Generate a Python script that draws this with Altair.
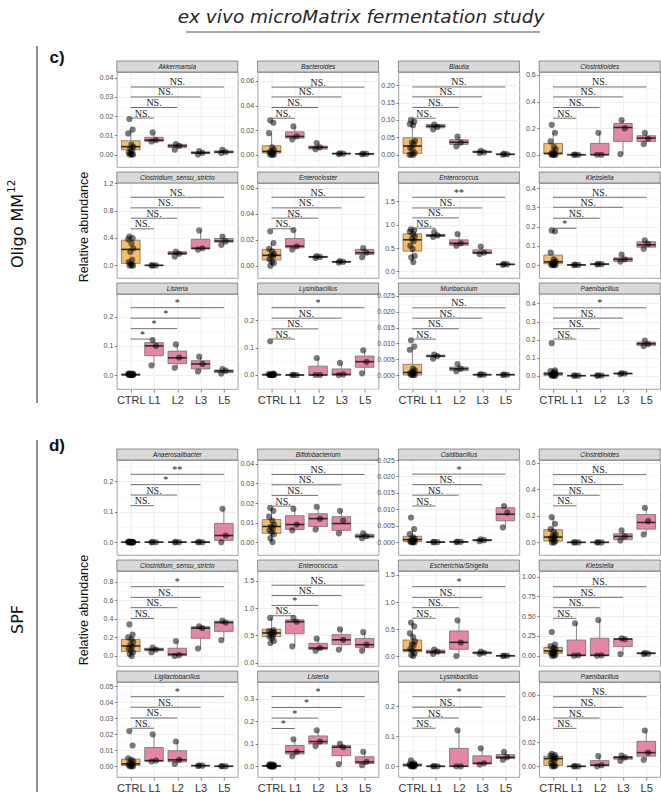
import math
import altair as alt
import pandas as pd

GROUPS = ["CTRL", "L1", "L2", "L3", "L5"]
TITLE = "ex vivo microMatrix fermentation study"

ORANGE = "#F6BD69"
PINK = "#E586A8"
BORDER = "#8a8a8a"
GRID = "#EBEBEB"
GRID_MINOR = "#F3F3F3"
SANS = "Liberation Sans"
SERIF = "Liberation Serif"

W, H = 121, 95          # plot area of one panel
STRIP_H = 11            # facet strip above each panel
SIDE_W = 93.5           # left column holding section letters and labels
ROW_GAP, COL_GAP = 16, 19.8
HEAD_H, MID_H = 53, 39  # title band, gap between the two sections

# horizontal spread of the dots around their group
JITTER = [-0.06, 0.08, -0.11, 0.03, 0.11, -0.02, 0.06, -0.09, 0.01, 0.10, -0.05, 0.04, -0.12]

# box = [lower whisker, q1, median, q3, upper whisker] for CTRL, L1, L2, L3, L5
# brk = bracket heights for CTRL vs L1 / L2 / L3 / L5, sig = their labels

# ---------------- Oligo MM12 ----------------
AKKERMANSIA = dict(
    name="Akkermansia", dom=[-0.0065, 0.043], step=0.01, dec=2,
    box=[[0.0, 0.0024, 0.0041, 0.0072, 0.013], [0.0068, 0.0069, 0.0075, 0.009, 0.0115],
         [0.0025, 0.0036, 0.0045, 0.0053, 0.0055], [0.0, 0.0005, 0.0009, 0.0014, 0.0018],
         [0.0008, 0.0009, 0.0013, 0.0019, 0.0025]],
    pts=[[0.0185, 0.013, 0.011, 0.0052, 0.004, 0.003, 0.002, 0.001, 0.0005, 0.0, 0.0, 0.0],
         [0.0115, 0.0075, 0.0068], [0.0055, 0.0045, 0.0025], [0.0018, 0.0009, 0.0],
         [0.0025, 0.0013, 0.0008]],
    brk=[0.019, 0.0245, 0.030, 0.0352], sig=["NS.", "NS.", "NS.", "NS."])

BACTEROIDES = dict(
    name="Bacteroides", dom=[-0.010, 0.0673], step=0.02, dec=2,
    box=[[0.0, 0.0014, 0.0027, 0.0073, 0.0175], [0.0125, 0.0135, 0.0149, 0.0186, 0.023],
         [0.0045, 0.0046, 0.006, 0.007, 0.0095], [0.0005, 0.0007, 0.0009, 0.0011, 0.0012],
         [0.0004, 0.0005, 0.0007, 0.0009, 0.001]],
    pts=[[0.028, 0.026, 0.0175, 0.006, 0.004, 0.003, 0.002, 0.0015, 0.001, 0.0, 0.0, 0.0],
         [0.023, 0.015, 0.0125], [0.0095, 0.006, 0.0045], [0.0012, 0.0009, 0.0005],
         [0.001, 0.0007, 0.0004]],
    brk=[0.0297, 0.0384, 0.047, 0.055], sig=["NS.", "NS.", "NS.", "NS."])

BLAUTIA = dict(
    name="Blautia", dom=[-0.0354, 0.238], step=0.05, dec=2,
    box=[[0.0, 0.0038, 0.0249, 0.0488, 0.10], [0.073, 0.0775, 0.082, 0.087, 0.087],
         [0.024, 0.0297, 0.036, 0.043, 0.052], [0.005, 0.0067, 0.008, 0.0105, 0.011],
         [0.0, 0.0005, 0.001, 0.002, 0.003]],
    pts=[[0.10, 0.095, 0.088, 0.085, 0.04, 0.035, 0.03, 0.02, 0.015, 0.005, 0.0, 0.0, 0.0],
         [0.087, 0.080, 0.073], [0.052, 0.035, 0.024], [0.011, 0.007, 0.005], [0.003, 0.001, 0.0]],
    brk=[0.105, 0.136, 0.1665, 0.195], sig=["NS.", "NS.", "NS.", "NS."])

CLOSTRIDIOIDES_MM = dict(
    name="Clostridioides", dom=[-0.0925, 0.6225], step=0.2, dec=1,
    box=[[0.0, 0.005, 0.01, 0.085, 0.165], [0.0, 0.0, 0.0, 0.001, 0.001],
         [0.0, 0.0, 0.0, 0.085, 0.165], [0.005, 0.10, 0.205, 0.235, 0.26],
         [0.08, 0.10, 0.125, 0.143, 0.165]],
    pts=[[0.225, 0.165, 0.10, 0.06, 0.04, 0.02, 0.01, 0.005, 0.0, 0.0, 0.0, 0.0],
         [0.001, 0.0, 0.0], [0.165, 0.0, 0.0], [0.26, 0.20, 0.005], [0.165, 0.12, 0.08]],
    brk=[0.275, 0.355, 0.435, 0.51], sig=["NS.", "NS.", "NS.", "NS."])

CLOSTRIDIUM_MM = dict(
    name="Clostridium_sensu_stricto", dom=[-0.184, 1.202], step=0.4, dec=1,
    box=[[0.0, 0.029, 0.233, 0.368, 0.42], [0.0, 0.0, 0.0, 0.002, 0.002],
         [0.13, 0.16, 0.175, 0.199, 0.20], [0.23, 0.24, 0.25, 0.38, 0.51],
         [0.30, 0.34, 0.355, 0.393, 0.42]],
    pts=[[0.42, 0.40, 0.38, 0.32, 0.25, 0.20, 0.08, 0.05, 0.02, 0.0, 0.0, 0.0],
         [0.0, 0.0, 0.0], [0.20, 0.17, 0.13], [0.51, 0.25, 0.23], [0.42, 0.35, 0.30]],
    brk=[0.533, 0.688, 0.839, 0.994], sig=["NS.", "NS.", "NS.", "NS."])

ENTEROCLOSTER = dict(
    name="Enterocloster", dom=[-0.0095, 0.0638], step=0.02, dec=2,
    box=[[0.0, 0.0044, 0.008, 0.0126, 0.0175], [0.0125, 0.0138, 0.0151, 0.021, 0.0275],
         [0.006, 0.0064, 0.0068, 0.0072, 0.0075], [0.0025, 0.0027, 0.003, 0.0033, 0.0035],
         [0.0065, 0.0087, 0.010, 0.0126, 0.0135]],
    pts=[[0.0265, 0.0175, 0.013, 0.011, 0.009, 0.008, 0.007, 0.005, 0.003, 0.002, 0.0],
         [0.0275, 0.015, 0.0125], [0.0075, 0.0068, 0.006], [0.0035, 0.003, 0.0025],
         [0.0135, 0.010, 0.0065]],
    brk=[0.0285, 0.0367, 0.0446, 0.0528], sig=["NS.", "NS.", "NS.", "NS."])

ENTEROCOCCUS_MM = dict(
    name="Enterococcus", dom=[-0.142, 1.892], step=0.5, dec=1,
    box=[[0.20, 0.434, 0.676, 0.804, 0.90], [0.74, 0.745, 0.77, 0.79, 0.84],
         [0.55, 0.56, 0.60, 0.675, 0.80], [0.37, 0.38, 0.40, 0.46, 0.53],
         [0.14, 0.145, 0.15, 0.155, 0.16]],
    pts=[[0.90, 0.88, 0.85, 0.80, 0.75, 0.70, 0.65, 0.55, 0.48, 0.33, 0.30, 0.20],
         [0.84, 0.77, 0.74], [0.80, 0.60, 0.55], [0.53, 0.40, 0.37], [0.16, 0.15, 0.14]],
    brk=[0.925, 1.145, 1.358, 1.586], sig=["NS.", "NS.", "NS.", "**"])

KLEBSIELLA_MM = dict(
    name="Klebsiella", dom=[-0.067, 0.426], step=0.1, dec=1,
    box=[[0.0, 0.007, 0.017, 0.052, 0.065], [0.0, 0.0, 0.001, 0.002, 0.002],
         [0.003, 0.004, 0.005, 0.006, 0.007], [0.018, 0.019, 0.03, 0.038, 0.055],
         [0.085, 0.093, 0.105, 0.121, 0.128]],
    pts=[[0.18, 0.175, 0.065, 0.03, 0.02, 0.015, 0.01, 0.005, 0.003, 0.0, 0.0, 0.0],
         [0.002, 0.001, 0.0], [0.007, 0.005, 0.003], [0.055, 0.03, 0.018], [0.128, 0.11, 0.085]],
    brk=[0.191, 0.243, 0.30, 0.352], sig=["*", "NS.", "NS.", "NS."])

LISTERIA_MM = dict(
    name="Listeria", dom=[-0.048, 0.278], step=0.1, dec=1,
    box=[[0.0, 0.0, 0.001, 0.0035, 0.006], [0.033, 0.066, 0.10, 0.111, 0.12],
         [0.025, 0.039, 0.059, 0.082, 0.105], [0.012, 0.021, 0.038, 0.049, 0.063],
         [0.005, 0.008, 0.014, 0.017, 0.02]],
    pts=[[0.006, 0.005, 0.004, 0.003, 0.002, 0.002, 0.001, 0.001, 0.0, 0.0, 0.0, 0.0],
         [0.12, 0.10, 0.033], [0.105, 0.06, 0.025], [0.063, 0.038, 0.012], [0.02, 0.015, 0.005]],
    brk=[0.1234, 0.159, 0.195, 0.231], sig=["*", "*", "*", "*"])

LYSINIBACILLUS_MM = dict(
    name="Lysinibacillus", dom=[-0.051, 0.295], step=0.1, dec=1,
    box=[[0.0, 0.0, 0.001, 0.003, 0.005], [0.0, 0.0, 0.0, 0.001, 0.001],
         [0.0, 0.0, 0.0, 0.032, 0.062], [0.0, 0.0, 0.002, 0.022, 0.044],
         [0.006, 0.028, 0.0485, 0.069, 0.09]],
    pts=[[0.123, 0.005, 0.004, 0.003, 0.002, 0.001, 0.001, 0.0, 0.0, 0.0, 0.0, 0.0],
         [0.001, 0.0, 0.0], [0.062, 0.0, 0.0], [0.044, 0.002, 0.0], [0.09, 0.048, 0.006]],
    brk=[0.131, 0.168, 0.207, 0.245], sig=["NS.", "NS.", "NS.", "*"])

MURIBACULUM = dict(
    name="Muribaculum", dom=[-0.00442, 0.02563], step=0.005, dec=3,
    box=[[0.0, 0.0, 0.0008, 0.0034, 0.008], [0.0052, 0.0058, 0.006, 0.0063, 0.0065],
         [0.0012, 0.0014, 0.002, 0.0025, 0.0035], [0.0, 0.0001, 0.0001, 0.0002, 0.0003],
         [0.0, 0.0001, 0.0001, 0.0002, 0.0003]],
    pts=[[0.011, 0.009, 0.008, 0.002, 0.0015, 0.001, 0.0008, 0.0005, 0.0002, 0.0, 0.0, 0.0],
         [0.0065, 0.006, 0.0052], [0.0035, 0.002, 0.0012], [0.0003, 0.0001, 0.0],
         [0.0002, 0.0001, 0.0]],
    brk=[0.01137, 0.01463, 0.018, 0.02126], sig=["NS.", "NS.", "NS.", "NS."])

PAENIBACILLUS_MM = dict(
    name="Paenibacillus", dom=[-0.0737, 0.4525], step=0.1, dec=1,
    box=[[0.0, 0.002, 0.01, 0.018, 0.03], [0.0, 0.0, 0.0, 0.001, 0.001],
         [0.0, 0.0, 0.001, 0.002, 0.002], [0.008, 0.01, 0.012, 0.014, 0.015],
         [0.165, 0.168, 0.177, 0.186, 0.195]],
    pts=[[0.18, 0.03, 0.025, 0.02, 0.015, 0.01, 0.008, 0.005, 0.002, 0.0, 0.0, 0.0],
         [0.001, 0.0, 0.0], [0.002, 0.001, 0.0], [0.015, 0.012, 0.008], [0.195, 0.175, 0.165]],
    brk=[0.203, 0.26, 0.319, 0.376], sig=["NS.", "NS.", "NS.", "*"])

# ---------------- SPF ----------------
ANAEROSALIBACTER = dict(
    name="Anaerosalibacter", dom=[-0.042, 0.27], step=0.1, dec=1,
    box=[[0.0, 0.0, 0.0, 0.001, 0.002], [0.0, 0.0, 0.0, 0.0005, 0.001],
         [0.0, 0.0, 0.0, 0.0005, 0.001], [0.0, 0.0, 0.0, 0.001, 0.001],
         [0.0, 0.006, 0.022, 0.062, 0.11]],
    pts=[[0.002, 0.001, 0.001, 0.0, 0.0, 0.0, 0.0, 0.0, 0.0, 0.0, 0.0, 0.0],
         [0.001, 0.0, 0.0], [0.001, 0.0, 0.0], [0.001, 0.0, 0.0], [0.11, 0.022, 0.0]],
    brk=[0.12, 0.155, 0.189, 0.223], sig=["NS.", "NS.", "*", "**"])

BIFIDOBACTERIUM = dict(
    name="Bifidobacterium", dom=[-0.0066, 0.042], step=0.01, dec=2,
    box=[[0.0, 0.0045, 0.008, 0.0115, 0.0175], [0.006, 0.0065, 0.009, 0.0135, 0.017],
         [0.0065, 0.008, 0.012, 0.0145, 0.018], [0.0045, 0.006, 0.0095, 0.013, 0.016],
         [0.002, 0.0022, 0.003, 0.004, 0.0045]],
    pts=[[0.0175, 0.016, 0.013, 0.011, 0.009, 0.008, 0.007, 0.006, 0.005, 0.004, 0.002, 0.0],
         [0.017, 0.009, 0.006], [0.018, 0.012, 0.0065], [0.016, 0.011, 0.0045],
         [0.0045, 0.003, 0.002]],
    brk=[0.0184, 0.0239, 0.0293, 0.0346], sig=["NS.", "NS.", "NS.", "NS."])

CALDIBACILLUS = dict(
    name="Caldibacillus", dom=[-0.0039, 0.025], step=0.005, dec=3,
    box=[[0.0, 0.0002, 0.0008, 0.0018, 0.004], [0.0, 0.0, 0.0, 0.0001, 0.0001],
         [0.0, 0.0, 0.0001, 0.0002, 0.0002], [0.0003, 0.0004, 0.0006, 0.0008, 0.0009],
         [0.0045, 0.0065, 0.0085, 0.0105, 0.011]],
    pts=[[0.0075, 0.004, 0.0025, 0.0015, 0.001, 0.0008, 0.0005, 0.0003, 0.0001, 0.0, 0.0, 0.0],
         [0.0001, 0.0, 0.0], [0.0002, 0.0001, 0.0], [0.0009, 0.0006, 0.0003],
         [0.011, 0.009, 0.0045]],
    brk=[0.011, 0.0143, 0.0175, 0.0207], sig=["NS.", "NS.", "NS.", "*"])

CLOSTRIDIOIDES_SPF = dict(
    name="Clostridioides", dom=[-0.095, 0.62], step=0.2, dec=1,
    box=[[0.0, 0.01, 0.04, 0.095, 0.19], [0.0, 0.0, 0.0, 0.001, 0.001],
         [0.0, 0.0, 0.0, 0.001, 0.001], [0.015, 0.02, 0.045, 0.065, 0.09],
         [0.06, 0.10, 0.15, 0.21, 0.26]],
    pts=[[0.19, 0.14, 0.10, 0.08, 0.06, 0.05, 0.04, 0.03, 0.02, 0.01, 0.0, 0.0],
         [0.001, 0.0, 0.0], [0.001, 0.0, 0.0], [0.09, 0.045, 0.015], [0.26, 0.16, 0.06]],
    brk=[0.275, 0.355, 0.435, 0.51], sig=["NS.", "NS.", "NS.", "NS."])

CLOSTRIDIUM_SPF = dict(
    name="Clostridium_sensu_stricto", dom=[-0.108, 0.915], step=0.2, dec=1,
    box=[[0.0, 0.047, 0.108, 0.179, 0.23], [0.04, 0.057, 0.07, 0.083, 0.09],
         [0.0, 0.004, 0.018, 0.083, 0.16], [0.08, 0.19, 0.30, 0.315, 0.32],
         [0.17, 0.265, 0.36, 0.375, 0.38]],
    pts=[[0.34, 0.23, 0.2, 0.18, 0.15, 0.12, 0.10, 0.08, 0.06, 0.04, 0.02, 0.0],
         [0.09, 0.07, 0.04], [0.16, 0.01, 0.0], [0.32, 0.30, 0.08], [0.38, 0.36, 0.17]],
    brk=[0.405, 0.52, 0.631, 0.746], sig=["NS.", "NS.", "NS.", "*"])

ENTEROCOCCUS_SPF = dict(
    name="Enterococcus", dom=[-0.06, 1.68], step=0.5, dec=1,
    box=[[0.36, 0.478, 0.545, 0.612, 0.82], [0.30, 0.53, 0.75, 0.785, 0.82],
         [0.22, 0.245, 0.27, 0.355, 0.44], [0.24, 0.33, 0.42, 0.515, 0.61],
         [0.22, 0.275, 0.33, 0.445, 0.56]],
    pts=[[0.82, 0.60, 0.58, 0.56, 0.55, 0.53, 0.50, 0.48, 0.45, 0.40, 0.36],
         [0.82, 0.75, 0.30], [0.44, 0.27, 0.22], [0.61, 0.42, 0.24], [0.56, 0.33, 0.22]],
    brk=[0.86, 1.05, 1.23, 1.42], sig=["NS.", "*", "NS.", "NS."])

ESCHERICHIA = dict(
    name="Escherichia/Shigella", dom=[-0.185, 1.574], step=0.5, dec=1,
    box=[[0.0, 0.08, 0.11, 0.296, 0.62], [0.04, 0.05, 0.075, 0.11, 0.12],
         [0.0, 0.123, 0.253, 0.463, 0.66], [0.04, 0.043, 0.06, 0.075, 0.08],
         [0.0, 0.0, 0.005, 0.008, 0.01]],
    pts=[[0.62, 0.55, 0.42, 0.35, 0.27, 0.22, 0.20, 0.13, 0.10, 0.05, 0.02, 0.0],
         [0.12, 0.08, 0.04], [0.66, 0.25, 0.0], [0.08, 0.06, 0.04], [0.01, 0.005, 0.0]],
    brk=[0.70, 0.895, 1.086, 1.284], sig=["NS.", "NS.", "NS.", "*"])

KLEBSIELLA_SPF = dict(
    name="Klebsiella", dom=[-0.131, 1.072], step=0.25, dec=2,
    box=[[0.0, 0.03, 0.059, 0.105, 0.14], [0.0, 0.0, 0.005, 0.198, 0.41],
         [0.0, 0.0, 0.005, 0.22, 0.45], [0.02, 0.114, 0.21, 0.215, 0.22],
         [0.02, 0.025, 0.03, 0.035, 0.04]],
    pts=[[0.30, 0.14, 0.12, 0.10, 0.08, 0.06, 0.05, 0.03, 0.02, 0.01, 0.0, 0.0],
         [0.41, 0.005, 0.0], [0.45, 0.005, 0.0], [0.22, 0.21, 0.02], [0.035, 0.025, 0.02]],
    brk=[0.473, 0.607, 0.738, 0.873], sig=["NS.", "NS.", "NS.", "NS."])

LIGILACTOBACILLUS = dict(
    name="Ligilactobacillus", dom=[-0.0067, 0.0527], step=0.01, dec=2,
    box=[[0.0, 0.0006, 0.0015, 0.0045, 0.005], [0.003, 0.00325, 0.0035, 0.01175, 0.020],
         [0.0015, 0.00275, 0.004, 0.00975, 0.0155], [0.0002, 0.0003, 0.0004, 0.0005, 0.0006],
         [0.0, 0.0, 0.0, 0.00005, 0.0001]],
    pts=[[0.022, 0.013, 0.005, 0.004, 0.003, 0.002, 0.0015, 0.001, 0.0005, 0.0, 0.0, 0.0],
         [0.020, 0.0035, 0.003], [0.0155, 0.004, 0.0015], [0.0006, 0.0004, 0.0002],
         [0.0001, 0.0, 0.0]],
    brk=[0.0238, 0.0302, 0.0369, 0.0435], sig=["NS.", "NS.", "NS.", "*"])

LISTERIA_SPF = dict(
    name="Listeria", dom=[-0.047, 0.374], step=0.1, dec=1,
    box=[[0.0, 0.0, 0.002, 0.004, 0.008], [0.045, 0.055, 0.065, 0.0925, 0.12],
         [0.09, 0.10, 0.11, 0.135, 0.16], [0.01, 0.0475, 0.085, 0.0925, 0.10],
         [0.005, 0.0125, 0.02, 0.0425, 0.065]],
    pts=[[0.01, 0.008, 0.006, 0.005, 0.004, 0.003, 0.002, 0.002, 0.001, 0.0, 0.0, 0.0],
         [0.12, 0.065, 0.045], [0.16, 0.11, 0.09], [0.10, 0.085, 0.01], [0.065, 0.02, 0.005]],
    brk=[0.168, 0.214, 0.261, 0.309], sig=["*", "*", "*", "*"])

LYSINIBACILLUS_SPF = dict(
    name="Lysinibacillus", dom=[-0.0356, 0.281], step=0.1, dec=1,
    box=[[0.0, 0.001, 0.004, 0.008, 0.012], [0.0, 0.0, 0.0, 0.0005, 0.001],
         [0.0, 0.0, 0.0, 0.06, 0.12], [0.006, 0.008, 0.01, 0.035, 0.06],
         [0.022, 0.026, 0.03, 0.039, 0.048]],
    pts=[[0.02, 0.01, 0.008, 0.006, 0.005, 0.004, 0.003, 0.002, 0.001, 0.0, 0.0, 0.0],
         [0.001, 0.0, 0.0], [0.12, 0.0, 0.0], [0.06, 0.01, 0.006], [0.048, 0.03, 0.022]],
    brk=[0.127, 0.161, 0.197, 0.232], sig=["NS.", "NS.", "NS.", "*"])

PAENIBACILLUS_SPF = dict(
    name="Paenibacillus", dom=[-0.0089, 0.0706], step=0.02, dec=2,
    box=[[0.0, 0.0008, 0.0065, 0.0084, 0.0105], [0.0, 0.0, 0.0, 0.0001, 0.0002],
         [0.0, 0.0005, 0.001, 0.0048, 0.0085], [0.0045, 0.006, 0.0075, 0.00825, 0.009],
         [0.0055, 0.0085, 0.0115, 0.021, 0.03]],
    pts=[[0.0105, 0.0095, 0.009, 0.008, 0.007, 0.006, 0.005, 0.003, 0.001, 0.0005, 0.0, 0.0],
         [0.0002, 0.0, 0.0], [0.0085, 0.001, 0.0], [0.009, 0.0075, 0.0045], [0.03, 0.0115, 0.0055]],
    brk=[0.0318, 0.0404, 0.0494, 0.0583], sig=["NS.", "NS.", "NS.", "NS."])

OLIGO_ROWS = [
    [AKKERMANSIA, BACTEROIDES, BLAUTIA, CLOSTRIDIOIDES_MM],
    [CLOSTRIDIUM_MM, ENTEROCLOSTER, ENTEROCOCCUS_MM, KLEBSIELLA_MM],
    [LISTERIA_MM, LYSINIBACILLUS_MM, MURIBACULUM, PAENIBACILLUS_MM],
]
SPF_ROWS = [
    [ANAEROSALIBACTER, BIFIDOBACTERIUM, CALDIBACILLUS, CLOSTRIDIOIDES_SPF],
    [CLOSTRIDIUM_SPF, ENTEROCOCCUS_SPF, ESCHERICHIA, KLEBSIELLA_SPF],
    [LIGILACTOBACILLUS, LISTERIA_SPF, LYSINIBACILLUS_SPF, PAENIBACILLUS_SPF],
]

ONE = pd.DataFrame({"k": [0]})
NO_FRAME = alt.ViewBackground(strokeOpacity=0)


def major_ticks(lo, hi, step):
    k0 = math.ceil(lo / step - 1e-9)
    k1 = math.floor(hi / step + 1e-9)
    return [round(k * step, 7) for k in range(k0, k1 + 1)]


def minor_ticks(major, lo, hi, step):
    cand = [major[0] - step / 2] + [m + step / 2 for m in major]
    return [round(c, 7) for c in cand if lo <= c <= hi]


def panel(p, bottom_row):
    lo, hi = p["dom"]
    major = major_ticks(lo, hi, p["step"])
    minor = minor_ticks(major, lo, hi, p["step"])

    box_rows, pt_rows, brk_rows = [], [], []
    for i, (g, b) in enumerate(zip(GROUPS, p["box"])):
        pos = i + 1
        box_rows.append(dict(group=g, pos=pos, left=pos - 0.4, right=pos + 0.4,
                             lo=b[0], q1=b[1], med=b[2], q3=b[3], hi=b[4],
                             kind="ctrl" if g == "CTRL" else "treat"))
        for j, v in enumerate(p["pts"][i]):
            pt_rows.append(dict(group=g, x=pos + JITTER[j % len(JITTER)], value=v))
    for k, (yb, lab) in enumerate(zip(p["brk"], p["sig"])):
        x2 = k + 2
        brk_rows.append(dict(x1=1, x2=x2, xm=(1 + x2) / 2, y=yb, label=lab))

    boxes = pd.DataFrame(box_rows)
    pts = pd.DataFrame(pt_rows)
    brk = pd.DataFrame(brk_rows)
    strip = pd.DataFrame({"name": [p["name"]]})

    xs = alt.Scale(domain=[0.4, 5.6], nice=False, zero=False)
    ys = alt.Scale(domain=[lo, hi], nice=False, zero=False)

    x_axis = alt.Axis(values=[1, 2, 3, 4, 5], grid=True, gridColor=GRID, gridWidth=0.8,
                      domain=False, labels=bottom_row, ticks=bottom_row, tickSize=3,
                      tickColor="#333333", tickWidth=0.6,
                      labelExpr="['CTRL','L1','L2','L3','L5'][datum.value - 1]",
                      labelFont=SANS, labelFontSize=11, labelColor="#333333", labelPadding=2)
    y_axis = alt.Axis(values=major, format=f".{p['dec']}f", grid=True, gridColor=GRID,
                      gridWidth=0.8, domain=False, tickSize=2.5, tickColor="#333333",
                      tickWidth=0.6, labelFont=SANS, labelFontSize=7, labelColor="#4d4d4d",
                      labelPadding=1.5)
    y_minor = alt.Axis(values=minor, orient="right", grid=True, gridColor=GRID_MINOR,
                       gridWidth=0.6, labels=False, ticks=False, domain=False)

    base_box = alt.Chart(boxes)

    axes_layer = base_box.mark_point(opacity=0).encode(
        x=alt.X("pos:Q", scale=xs, axis=x_axis, title=None),
        y=alt.Y("med:Q", scale=ys, axis=y_axis, title=None))
    minor_layer = base_box.mark_point(opacity=0).encode(
        x=alt.X("pos:Q", scale=xs, axis=None),
        y=alt.Y("med:Q", scale=ys, axis=y_minor, title=None))

    whisker = base_box.mark_rule(color="#6e6e6e", strokeWidth=0.8).encode(
        x=alt.X("pos:Q", scale=xs, axis=None),
        y=alt.Y("lo:Q", scale=ys, axis=None), y2="hi:Q")
    box = base_box.mark_rect(stroke="#6e6e6e", strokeWidth=0.8).encode(
        x=alt.X("left:Q", scale=xs, axis=None), x2="right:Q",
        y=alt.Y("q1:Q", scale=ys, axis=None), y2="q3:Q",
        fill=alt.Fill("kind:N", scale=alt.Scale(domain=["ctrl", "treat"], range=[ORANGE, PINK]),
                      legend=None))
    median = base_box.mark_rule(color="#2b2b2b", strokeWidth=1.6).encode(
        x=alt.X("left:Q", scale=xs, axis=None), x2="right:Q",
        y=alt.Y("med:Q", scale=ys, axis=None))

    dots = alt.Chart(pts).mark_circle(size=38, color="#000000", opacity=0.52).encode(
        x=alt.X("x:Q", scale=xs, axis=None),
        y=alt.Y("value:Q", scale=ys, axis=None))

    brackets = alt.Chart(brk).mark_rule(color="#4a4a4a", strokeWidth=0.8).encode(
        x=alt.X("x1:Q", scale=xs, axis=None), x2="x2:Q",
        y=alt.Y("y:Q", scale=ys, axis=None))
    sig_text = alt.Chart(brk).mark_text(font=SERIF, fontSize=10, color="#1a1a1a",
                                        baseline="alphabetic", dy=-1.5).encode(
        x=alt.X("xm:Q", scale=xs, axis=None),
        y=alt.Y("y:Q", scale=ys, axis=None),
        text="label:N")

    strip_box = alt.Chart(strip).mark_rect(fill="#D9D9D9", stroke="#4d4d4d", strokeWidth=0.6).encode(
        x=alt.value(0), x2=alt.value(W), y=alt.value(-STRIP_H), y2=alt.value(0))
    strip_text = alt.Chart(strip).mark_text(font=SANS, fontSize=6.5, fontStyle="italic",
                                            color="#1a1a1a", baseline="middle").encode(
        x=alt.value(W / 2), y=alt.value(-STRIP_H / 2), text="name:N")

    return alt.layer(
        axes_layer, minor_layer, whisker, box, median, dots, brackets, sig_text,
        strip_box, strip_text,
    ).resolve_axis(x="independent", y="independent").properties(
        width=W, height=H,
        view=alt.ViewBackground(stroke=BORDER, strokeWidth=0.8, strokeOpacity=1),
    )


def blank(width, height):
    return alt.Chart(ONE).mark_point(opacity=0).encode(
        x=alt.value(0), y=alt.value(0)
    ).properties(width=width, height=height, view=NO_FRAME)


def side(tag, label, sup, line_top, line_bottom, label_base, ytitle_y):
    base = alt.Chart(ONE)
    layers = [
        base.mark_rule(color="#333333", strokeWidth=1.1).encode(
            x=alt.value(34), y=alt.value(line_top), y2=alt.value(line_bottom)),
        base.mark_text(text=tag, font=SANS, fontSize=17, fontWeight="bold",
                       color="#111111", baseline="alphabetic", align="center").encode(
            x=alt.value(54), y=alt.value(-9)),
        # rotated section label, read bottom to top
        base.mark_text(text=label, font="DejaVu Sans", fontSize=16, angle=270,
                       color="#111111", baseline="middle", align="left").encode(
            x=alt.value(15), y=alt.value(label_base)),
        base.mark_text(text="Relative abundance", font=SANS, fontSize=12.5, angle=270,
                       color="#111111", baseline="middle", align="center").encode(
            x=alt.value(81), y=alt.value(ytitle_y)),
    ]
    if sup:
        # superscript after "Oligo MM", raised toward the left once rotated
        layers.append(base.mark_text(text=sup, font="DejaVu Sans", fontSize=10.5, angle=270,
                                     color="#111111", baseline="middle", align="left").encode(
            x=alt.value(9), y=alt.value(label_base - 75)))
    return alt.layer(*layers).properties(width=SIDE_W, height=H, view=NO_FRAME)


header_base = alt.Chart(ONE)
header = alt.layer(
    header_base.mark_text(text=TITLE, font="DejaVu Sans", fontSize=18.5, fontStyle="italic",
                          color="#262626", baseline="middle", align="center").encode(
        x=alt.value(358), y=alt.value(14)),
    header_base.mark_rule(color="#555555", strokeWidth=1).encode(
        x=alt.value(183), x2=alt.value(537), y=alt.value(29)),
).properties(width=SIDE_W, height=HEAD_H, view=NO_FRAME)

# grid of cells: side column + four panel columns
cells = [header] + [blank(W, HEAD_H) for _ in range(4)]
for r, row in enumerate(OLIGO_ROWS):
    if r == 0:
        cells.append(side("c)", "Oligo MM", "12", -26, 331, 196, 155))
    else:
        cells.append(blank(SIDE_W, H))
    cells += [panel(q, r == 2) for q in row]
cells += [blank(SIDE_W, MID_H)] + [blank(W, MID_H) for _ in range(4)]
for r, row in enumerate(SPF_ROWS):
    if r == 0:
        cells.append(side("d)", "SPF", "", -20, 335, 174, 150))
    else:
        cells.append(blank(SIDE_W, H))
    cells += [panel(q, r == 2) for q in row]

chart = alt.concat(
    *cells, columns=5, spacing={"row": ROW_GAP, "column": COL_GAP},
    bounds="flush", align="each",
).properties(
    padding={"left": 0, "top": 0, "right": 0, "bottom": 0},
    background="white",
).configure_view(strokeOpacity=0)

chart.save("out.html", embed_options={"renderer": "svg", "actions": False})
